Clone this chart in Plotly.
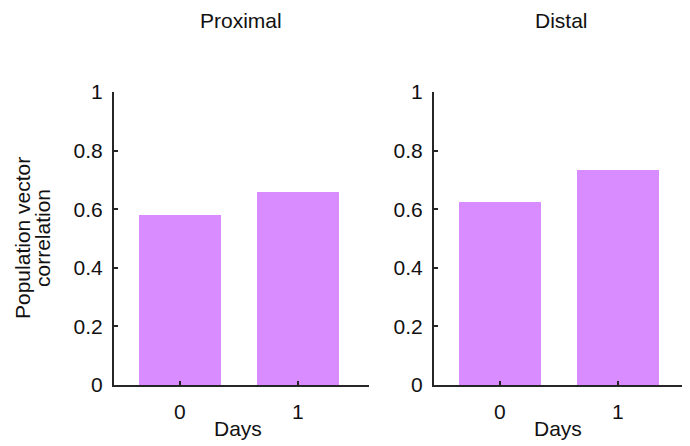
import plotly.graph_objects as go

days = [0, 1]
day_labels = ["0", "1"]
proximal = [0.579, 0.658]
distal = [0.626, 0.735]
panel_titles = ["Proximal", "Distal"]
y_ticks = [0, 0.2, 0.4, 0.6, 0.8, 1]
y_tick_labels = ["0", "0.2", "0.4", "0.6", "0.8", "1"]

W, H = 690, 446
OFF = 8  # page offset of the plot div
bar_color = "#D98CFF"
axis_color = "#262626"
font_family = "Liberation Sans, Arial, sans-serif"
FS = 21

fig = go.Figure()
fig.add_trace(go.Bar(x=days, y=proximal, width=0.7, marker=dict(color=bar_color, line=dict(width=0)),
                     xaxis="x", yaxis="y", showlegend=False))
fig.add_trace(go.Bar(x=days, y=distal, width=0.7, marker=dict(color=bar_color, line=dict(width=0)),
                     xaxis="x2", yaxis="y2", showlegend=False))

def px_x(v):
    return (v - OFF) / W

def px_y(v):
    return 1 - (v - OFF) / H

ydom = [px_y(385), px_y(92)]
xdom1 = [px_x(114), px_x(369)]
xdom2 = [px_x(434), px_x(689)]

axis_common = dict(showline=True, linecolor=axis_color, linewidth=2, ticks="inside",
                   ticklen=4, tickwidth=2, tickcolor=axis_color, showgrid=False, zeroline=False,
                   automargin=False,
                   tickfont=dict(family=font_family, size=FS, color="#111111"))

xcommon = dict(axis_common, range=[-0.559, 1.602], tickvals=days, ticktext=day_labels,
               ticklabelstandoff=7)
ycommon = dict(axis_common, range=[0, 1], tickvals=y_ticks, ticktext=y_tick_labels,
               ticklabelstandoff=5)

fig.update_layout(
    template="none",
    width=W, height=H, autosize=False,
    margin=dict(l=0, r=0, t=0, b=0, pad=0),
    paper_bgcolor="white", plot_bgcolor="white",
    bargap=0,
    xaxis=dict(xcommon, domain=xdom1, anchor="y"),
    yaxis=dict(ycommon, domain=ydom, anchor="x"),
    xaxis2=dict(xcommon, domain=xdom2, anchor="y2"),
    yaxis2=dict(ycommon, domain=ydom, anchor="x2"),
)

ann_font = dict(family=font_family, size=FS, color="#111111")
annotations = []
for title, cx_px in zip(panel_titles, [241, 561]):
    annotations.append(dict(text=title, x=px_x(cx_px), y=1, xref="paper", yref="paper",
                            showarrow=False, xanchor="center", yanchor="top", font=ann_font,
                            borderpad=0))
for cx_px in [238, 558]:
    annotations.append(dict(text="Days", x=px_x(cx_px), y=px_y(428), xref="paper", yref="paper",
                            showarrow=False, xanchor="center", yanchor="middle", font=ann_font))
annotations.append(dict(text="Population vector", x=px_x(22), y=px_y(238), xref="paper", yref="paper",
                        showarrow=False, xanchor="center", yanchor="middle", textangle=-90, font=ann_font))
annotations.append(dict(text="correlation", x=px_x(42), y=px_y(238), xref="paper", yref="paper",
                        showarrow=False, xanchor="center", yanchor="middle", textangle=-90, font=ann_font))
fig.update_layout(annotations=annotations)

fig.write_html("out.html")
